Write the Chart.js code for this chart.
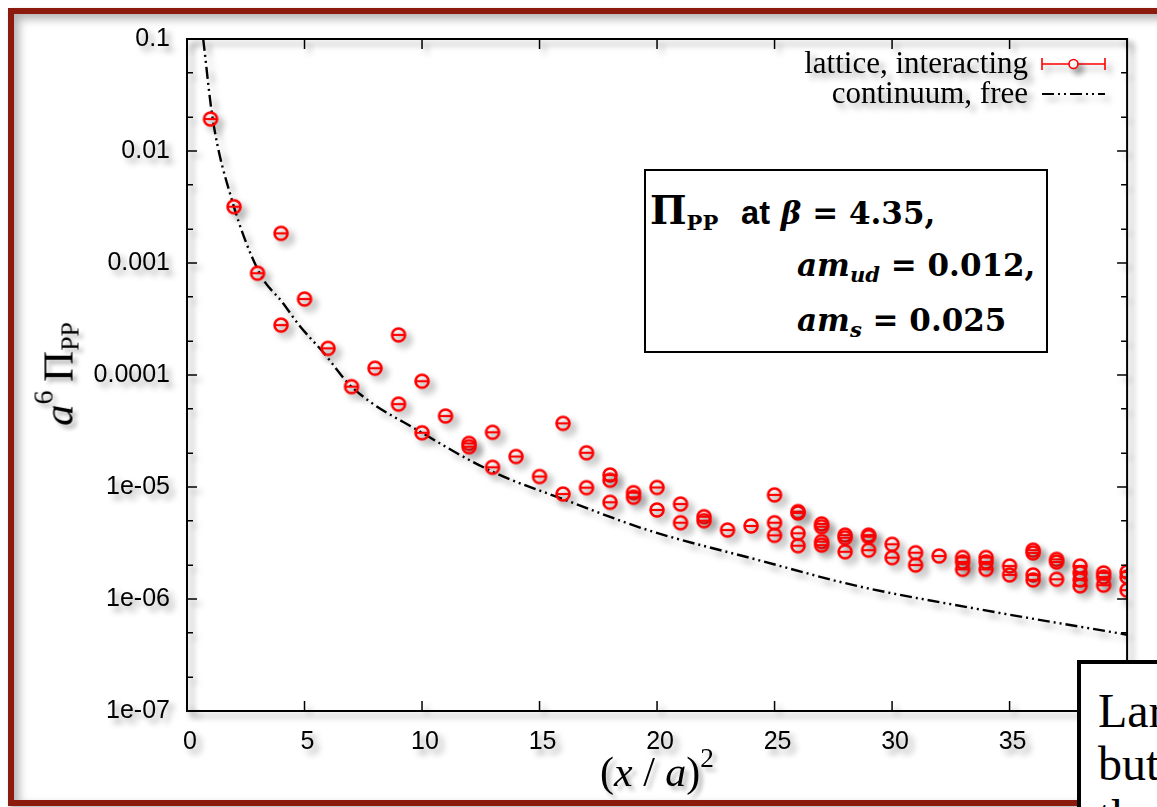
<!DOCTYPE html>
<html>
<head>
    <title>Pi PP lattice vs continuum</title>
    <script src="https://cdn.jsdelivr.net/npm/chart.js"></script>
    <style>
        body { margin: 0; width: 1157px; height: 807px; overflow: hidden; background: #fff; position: relative; font-family: "Liberation Serif", serif; }
        #frame { position: absolute; left: 8px; top: 8px; width: 1200px; height: 786px; border: 6px solid #8c1b0d; background: #fff;
                 box-shadow: inset 5px 5px 10px rgba(0,0,0,0.3), 2px 2px 4px rgba(0,0,0,0.3); }
        #chart { position: absolute; left: 0; top: 0; z-index: 1; }
        .ttl { position: absolute; z-index: 2; white-space: nowrap; color: #000; }
        #ytitle { left: 58px; top: 374px; font-size: 43px; transform: translate(-50%, -50%) rotate(-90deg); text-shadow: -4px 4px 4px rgba(0,0,0,0.3); }
        #xtitle { left: 657px; top: 772px; font-size: 42px; transform: translate(-50%, -50%); text-shadow: 4px 4px 4px rgba(0,0,0,0.3); }
        .ttl sup { font-size: 0.65em; vertical-align: 0.7em; line-height: 0; }
        .ttl sub { font-size: 0.6em; vertical-align: -0.25em; line-height: 0; }
        #infobox { position: absolute; z-index: 2; left: 644px; top: 169px; width: 400px; height: 180px; border: 2px solid #000; background: #fff; }
        .ln { position: absolute; z-index: 3; white-space: nowrap; font-weight: bold; font-family: "DejaVu Serif", serif; font-size: 31px; line-height: 31px; }
        .ln sub { font-size: 0.68em; vertical-align: -0.3em; line-height: 0; }
        .big { font-size: 1.25em; }
        .sf { font-family: "Liberation Sans", sans-serif; font-size: 1.05em; margin-left: 12px; }
        #note { position: absolute; z-index: 4; left: 1077px; top: 660px; width: 200px; height: 300px; border: 4px solid #000; background: #fff;
                font-size: 48px; line-height: 53px; padding: 20px 0 0 17px; box-sizing: border-box; }
    </style>
</head>
<body>
    <div id="frame"></div>
    <canvas id="chart" width="1157" height="807"></canvas>

    <div id="ytitle" class="ttl"><i>a</i><sup>6</sup>&thinsp;Π<sub>PP</sub></div>
    <div id="xtitle" class="ttl">(<i>x</i> / <i>a</i>)<sup>2</sup></div>

    <div id="infobox"></div>
    <div class="ln" style="left:650px; top:195px;"><span class="big">Π</span><sub>PP</sub>&nbsp;<span class="sf">at</span> <i>β</i> = 4.35,</div>
    <div class="ln" style="left:797px; top:250px;"><i>am<sub>ud</sub></i> = 0.012,</div>
    <div class="ln" style="left:797px; top:305px;"><i>am<sub>s</sub></i> = 0.025</div>

    <div id="note">Lar<br>but<br>th</div>

    <script>
        // lattice, interacting (x = (x/a)^2, y = a^6 Pi_PP)
        const latticeX = [1, 2, 3, 4, 4, 5, 6, 7, 8, 9, 9, 10, 10, 11, 12, 12, 13, 13, 14, 15,
                          16, 16, 17, 17, 18, 18, 18, 19, 19, 20, 20, 21, 21, 22, 22, 23, 24,
                          25, 25, 25, 26, 26, 26, 26, 27, 27, 27, 27, 28, 28, 28, 29, 29, 29,
                          30, 30, 31, 31, 32, 33, 33, 33, 34, 34, 34, 35, 35, 36, 36, 36, 36,
                          37, 37, 37, 38, 38, 38, 38, 39, 39, 39, 40, 40, 40];
        const latticeY = [0.0193, 0.00318, 8.1e-4, 1.84e-3, 2.79e-4, 4.77e-4, 1.73e-4, 7.87e-5, 1.15e-4, 2.28e-4, 5.5e-5, 8.8e-5, 3.05e-5, 4.3e-5, 2.45e-5, 2.29e-5, 3.08e-5, 1.5e-5, 1.87e-5, 1.24e-5,
                          3.7e-5, 8.65e-6, 2.02e-5, 9.87e-6, 1.28e-5, 1.15e-5, 7.3e-6, 8.9e-6, 8.1e-6, 9.9e-6, 6.24e-6, 7.05e-6, 4.8e-6, 5.43e-6, 5.0e-6, 4.13e-6, 4.49e-6,
                          8.5e-6, 4.8e-6, 3.7e-6, 6.03e-6, 5.86e-6, 3.86e-6, 2.99e-6, 4.68e-6, 4.42e-6, 3.25e-6, 3.03e-6, 3.72e-6, 3.52e-6, 2.64e-6, 3.72e-6, 3.6e-6, 2.73e-6,
                          3.08e-6, 2.34e-6, 2.59e-6, 2.01e-6, 2.42e-6, 2.35e-6, 2.14e-6, 1.84e-6, 2.35e-6, 2.14e-6, 1.84e-6, 1.97e-6, 1.64e-6, 2.73e-6, 2.58e-6, 1.64e-6, 1.48e-6,
                          2.26e-6, 2.14e-6, 1.5e-6, 1.97e-6, 1.71e-6, 1.48e-6, 1.31e-6, 1.71e-6, 1.57e-6, 1.33e-6, 1.74e-6, 1.57e-6, 1.2e-6];

        // continuum, free
        const freeX = [0.69, 1.09, 1.89, 3.09, 4.08, 4.79, 5.78, 7, 10, 13, 16.1, 19.6, 24.3, 28.5, 33.7, 40];
        const freeY = [0.1, 0.0196, 0.00378, 8.1e-4, 4.4e-4, 2.75e-4, 1.61e-4, 7.87e-5, 3.05e-5, 1.37e-5, 7.66e-6, 4.13e-6, 2.23e-6, 1.31e-6, 8.1e-7, 4.8e-7];

        const xTicks = [0, 5, 10, 15, 20, 25, 30, 35, 40];
        const yTicks = [1e-7, 1e-6, 1e-5, 1e-4, 1e-3, 1e-2, 1e-1];
        const yTickLabels = ['1e-07', '1e-06', '1e-05', '0.0001', '0.001', '0.01', '0.1'];
        const yMinorTicks = [2e-7, 5e-7, 2e-6, 5e-6, 2e-5, 5e-5, 2e-4, 5e-4, 2e-3, 5e-3, 2e-2, 5e-2];

        const dashDot = [12, 4, 2, 4, 2, 4];

        function makeMarker() {
            const c = document.createElement('canvas');
            c.width = 20; c.height = 20;
            const g = c.getContext('2d');
            g.strokeStyle = '#ff0000';
            g.lineWidth = 2.6;
            g.beginPath();
            g.arc(10, 10, 6.5, 0, 2 * Math.PI);
            g.stroke();
            g.lineWidth = 2.2;
            g.beginPath();
            g.moveTo(4, 10);
            g.lineTo(16, 10);
            g.stroke();
            return c;
        }

        const gnuFrame = {
            id: 'gnuFrame',
            beforeDraw(chart) {
                const ctx = chart.ctx;
                ctx.save();
                ctx.shadowColor = 'rgba(0,0,0,0.38)';
                ctx.shadowBlur = 6;
                ctx.shadowOffsetX = 5;
                ctx.shadowOffsetY = 5;
            },
            afterDraw(chart) {
                const ctx = chart.ctx, a = chart.chartArea;
                const xs = chart.scales.x, ys = chart.scales.y;
                ctx.setLineDash([]);
                ctx.strokeStyle = '#000';
                ctx.lineWidth = 2;
                ctx.strokeRect(a.left, a.top, a.right - a.left, a.bottom - a.top);

                ctx.lineWidth = 1.5;
                ctx.beginPath();
                xTicks.forEach(v => {
                    const p = xs.getPixelForValue(v);
                    ctx.moveTo(p, a.bottom); ctx.lineTo(p, a.bottom - 10);
                    ctx.moveTo(p, a.top); ctx.lineTo(p, a.top + 10);
                });
                yTicks.forEach(v => {
                    const p = ys.getPixelForValue(v);
                    ctx.moveTo(a.left, p); ctx.lineTo(a.left + 10, p);
                    ctx.moveTo(a.right, p); ctx.lineTo(a.right - 10, p);
                });
                yMinorTicks.forEach(v => {
                    const p = ys.getPixelForValue(v);
                    ctx.moveTo(a.left, p); ctx.lineTo(a.left + 6, p);
                    ctx.moveTo(a.right, p); ctx.lineTo(a.right - 6, p);
                });
                ctx.stroke();

                // key, top right
                const ds = chart.data.datasets;
                ctx.font = '31px "Liberation Serif"';
                ctx.fillStyle = '#000';
                ctx.textAlign = 'right';
                ctx.textBaseline = 'middle';
                ctx.fillText(ds[0].label, 1028, 65);
                ctx.fillText(ds[1].label, 1028, 95);

                ctx.strokeStyle = '#ff0000';
                ctx.lineWidth = 1.6;
                ctx.beginPath();
                ctx.moveTo(1042, 64); ctx.lineTo(1105, 64);
                ctx.moveTo(1042, 58); ctx.lineTo(1042, 70);
                ctx.moveTo(1105, 58); ctx.lineTo(1105, 70);
                ctx.stroke();
                ctx.fillStyle = '#fff';
                ctx.beginPath();
                ctx.arc(1073.5, 64, 4.5, 0, 2 * Math.PI);
                ctx.fill();
                ctx.stroke();

                ctx.strokeStyle = '#000';
                ctx.lineWidth = 2;
                ctx.setLineDash(dashDot);
                ctx.beginPath();
                ctx.moveTo(1042, 94); ctx.lineTo(1105, 94);
                ctx.stroke();
                ctx.setLineDash([]);

                ctx.restore();
            }
        };

        const marker = makeMarker();

        new Chart(document.getElementById('chart'), {
            type: 'scatter',
            data: {
                datasets: [
                    {
                        label: 'lattice, interacting',
                        data: latticeX.map((x, i) => ({ x: x, y: latticeY[i] })),
                        pointStyle: marker,
                        pointRadius: 7,
                        showLine: false
                    },
                    {
                        label: 'continuum, free',
                        data: freeX.map((x, i) => ({ x: x, y: freeY[i] })),
                        showLine: true,
                        pointRadius: 0,
                        borderColor: '#000',
                        borderWidth: 2.4,
                        borderDash: dashDot,
                        cubicInterpolationMode: 'monotone',
                        fill: false
                    }
                ]
            },
            options: {
                responsive: false,
                animation: false,
                layout: { padding: { top: 39, right: 26, left: 0, bottom: 0 } },
                plugins: { legend: { display: false }, tooltip: { enabled: false } },
                scales: {
                    x: {
                        type: 'linear',
                        min: 0,
                        max: 40,
                        afterBuildTicks: s => { s.ticks = xTicks.map(v => ({ value: v })); },
                        afterFit: s => { s.height = 96; },
                        grid: { display: false, drawTicks: false },
                        border: { display: false },
                        ticks: {
                            callback: v => String(v),
                            font: { family: 'Liberation Sans', size: 25 },
                            color: '#000',
                            padding: 16,
                            labelOffset: 3,
                            maxRotation: 0,
                            autoSkip: false
                        }
                    },
                    y: {
                        type: 'logarithmic',
                        min: 1e-7,
                        max: 0.1,
                        afterBuildTicks: s => { s.ticks = yTicks.map(v => ({ value: v })); },
                        afterFit: s => { s.width = 187; },
                        grid: { display: false, drawTicks: false },
                        border: { display: false },
                        ticks: {
                            callback: (v, i) => yTickLabels[i],
                            font: { family: 'Liberation Sans', size: 25 },
                            color: '#000',
                            padding: 17,
                            autoSkip: false
                        }
                    }
                }
            },
            plugins: [gnuFrame]
        });
    </script>
</body>
</html>
